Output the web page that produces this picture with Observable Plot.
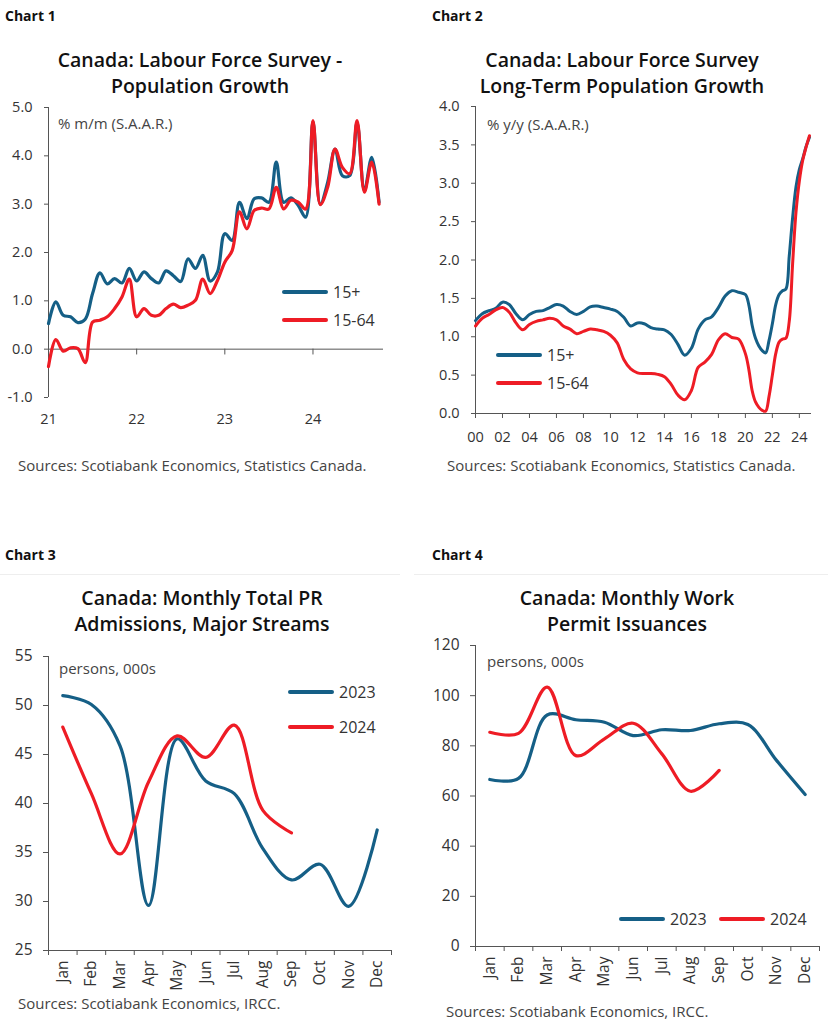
<!DOCTYPE html>
<html><head><meta charset="utf-8">
<script src="https://cdn.jsdelivr.net/npm/d3@7"></script>
<script src="https://cdn.jsdelivr.net/npm/@observablehq/plot@0.6"></script>
<style>
body{margin:0;background:#fff;}
#page{position:relative;width:828px;height:1023px;overflow:hidden;font-family:"Open Sans",Lato,sans-serif;color:#333;background:#fff;}
.abs{position:absolute;}
.chartno{font-family:"Open Sans",sans-serif;font-weight:700;font-size:14px;line-height:20px;color:#111;}
.title{font-family:"Open Sans",sans-serif;font-weight:600;font-size:19.5px;line-height:26px;text-align:center;color:#111;width:400px;}
.unit{font-size:15px;line-height:18px;color:#444;white-space:nowrap;}
.src{font-size:15px;line-height:18px;color:#444;white-space:nowrap;}
.leg{font-size:16px;line-height:20px;height:20px;color:#333;display:flex;align-items:center;white-space:nowrap;}
.leg .sw{display:inline-block;width:46px;height:4px;border-radius:2px;margin-right:5px;}
.sep{height:1px;background:#eee;}
</style></head><body><div id="page"></div>
<script>
// ---------- DATA ----------
const colBlue = "#155f86";
const colRed = "#ee1c25";
const axisColor = "#555";

// Chart 1: monthly from Jan 2021
const c1StartYear = 2021;
const c1Series = ["15+", "15-64"];
const c1Plus = [0.53,0.98,0.70,0.67,0.55,0.62,1.15,1.58,1.35,1.46,1.37,1.67,1.41,1.60,1.46,1.37,1.62,1.52,1.40,1.87,1.67,1.94,1.41,1.60,2.39,2.25,3.04,2.70,3.11,3.13,3.04,3.87,3.04,3.13,2.97,2.73,4.71,3.00,3.45,4.14,3.59,3.59,4.69,3.28,3.97,3.04];
const c1Core = [-0.36,0.20,-0.04,0.03,0.01,-0.28,0.56,0.60,0.67,0.84,1.08,1.45,0.67,0.84,0.70,0.70,0.84,0.93,0.86,0.91,1.01,1.45,1.15,1.42,1.80,2.04,2.84,2.49,2.87,2.92,2.90,3.35,2.90,3.08,3.04,2.90,4.73,2.99,3.35,4.14,3.76,3.63,4.73,3.25,3.87,3.00];
const c1XDomain = [2021, 2024.8];
const c1YTicks = [-1,0,1,2,3,4,5];
const c1XTicks = [2021,2022,2023,2024];

// Chart 2: long-term y/y
const c2Years = [2000,2000.5,2001,2001.5,2002,2002.5,2003,2003.5,2004,2004.5,2005,2005.5,2006,2006.5,2007,2007.5,2008,2008.5,2009,2009.5,2010,2010.5,2011,2011.5,2012,2012.5,2013,2013.5,2014,2014.5,2015,2015.5,2016,2016.5,2017,2017.5,2018,2018.5,2019,2019.5,2020,2020.25,2020.5,2020.75,2021,2021.25,2021.5,2021.75,2022,2022.25,2022.5,2022.75,2023,2023.25,2023.5,2023.75,2024,2024.25,2024.5,2024.75];
const c2Plus = [1.21,1.30,1.34,1.37,1.45,1.42,1.30,1.22,1.29,1.33,1.34,1.38,1.42,1.40,1.33,1.29,1.33,1.39,1.40,1.38,1.36,1.33,1.25,1.14,1.18,1.17,1.12,1.10,1.09,1.03,0.90,0.76,0.85,1.10,1.22,1.26,1.38,1.53,1.60,1.58,1.55,1.42,1.15,0.98,0.88,0.82,0.79,0.95,1.17,1.42,1.55,1.60,1.62,2.05,2.55,2.95,3.18,3.32,3.48,3.60];
const c2Core = [1.14,1.24,1.29,1.35,1.38,1.32,1.18,1.09,1.16,1.20,1.22,1.24,1.22,1.14,1.10,1.04,1.07,1.10,1.09,1.07,1.02,0.92,0.70,0.58,0.53,0.52,0.52,0.51,0.48,0.38,0.24,0.18,0.30,0.60,0.67,0.77,0.96,1.04,0.99,0.97,0.78,0.58,0.30,0.15,0.08,0.04,0.03,0.22,0.50,0.78,0.93,0.97,0.98,1.20,1.95,2.62,3.03,3.30,3.47,3.62];
const c2XDomain = [2000, 2024.9];
const c2XTicks = [2000,2002,2004,2006,2008,2010,2012,2014,2016,2018,2020,2022,2024];
const c2YTicks = [0,0.5,1,1.5,2,2.5,3,3.5,4];

// Charts 3 & 4: months
const months = ["Jan","Feb","Mar","Apr","May","Jun","Jul","Aug","Sep","Oct","Nov","Dec"];
const yearSeries = ["2023","2024"];
const c3Y2023 = [51.0,50.1,45.9,29.6,46.6,42.3,41.0,35.4,32.2,33.8,29.5,37.3];
const c3Y2024 = [47.8,41.0,34.85,42.2,46.9,44.7,48.0,39.3,37.0];
const c3YTicks = [25,30,35,40,45,50,55];
const c4Y2023 = [66.6,67.0,92.3,90.4,89.4,84.1,86.4,86.1,88.8,88.5,74.2,60.6];
const c4Y2024 = [85.4,85.0,103.4,76.1,82.8,89.0,76.8,61.9,70.2];
const c4YTicks = [0,20,40,60,80,100,120];

// ---------- HELPERS ----------
const page = document.getElementById("page");
function addDiv(cls, left, top, html, extra) {
  const d = document.createElement("div");
  d.className = "abs " + cls;
  d.style.left = left + "px";
  d.style.top = top + "px";
  if (extra) Object.assign(d.style, extra);
  d.innerHTML = html;
  page.appendChild(d);
  return d;
}
function addPlot(svg, left, top) {
  const w = document.createElement("div");
  w.className = "abs";
  w.style.left = left + "px";
  w.style.top = top + "px";
  w.appendChild(svg);
  page.appendChild(w);
}
function legendItem(left, cy, color, label) {
  addDiv("leg", left, cy - 10, `<span class="sw" style="background:${color}"></span>${label}`);
}
const baseStyle = (fs) => ({fontFamily: "'Open Sans', Lato, sans-serif", fontSize: fs, color: "#333", background: "transparent", overflow: "visible"});

// ---------- CHART 1 ----------
const c1Rows = [
  ...c1Plus.map((v, i) => ({x: c1StartYear + i / 12, y: v, s: c1Series[0]})),
  ...c1Core.map((v, i) => ({x: c1StartYear + i / 12, y: v, s: c1Series[1]}))
];
addPlot(Plot.plot({
  width: 414, height: 345, marginLeft: 48, marginRight: 31, marginTop: 12, marginBottom: 43,
  style: baseStyle("14.5px"),
  x: {domain: c1XDomain},
  y: {domain: [c1YTicks[0], c1YTicks[c1YTicks.length - 1]]},
  color: {domain: c1Series, range: [colBlue, colRed]},
  marks: [
    Plot.ruleX([c1XDomain[0]], {stroke: axisColor}),
    Plot.ruleY([0], {stroke: axisColor}),
    Plot.ruleX(c1XTicks, {y1: 0, y2: -0.12, stroke: axisColor}),
    Plot.axisY({ticks: c1YTicks, tickSize: 4, tickPadding: 12, tickFormat: d => d.toFixed(1), label: null, stroke: axisColor}),
    Plot.axisX({ticks: c1XTicks, tickSize: 0, tickPadding: 16, tickFormat: d => String(d).slice(2), label: null}),
    Plot.line(c1Rows, {x: "x", y: "y", z: "s", stroke: "s", strokeWidth: 3.2, curve: "catmull-rom"})
  ]
}), 0, 95);

// ---------- CHART 2 ----------
const c2Rows = [
  ...c2Years.map((yr, i) => ({x: yr, y: c2Plus[i], s: c1Series[0]})),
  ...c2Years.map((yr, i) => ({x: yr, y: c2Core[i], s: c1Series[1]}))
];
addPlot(Plot.plot({
  width: 414, height: 345, marginLeft: 61, marginRight: 17, marginTop: 11, marginBottom: 27,
  style: baseStyle("14.5px"),
  x: {domain: c2XDomain},
  y: {domain: [0, 4]},
  color: {domain: c1Series, range: [colBlue, colRed]},
  marks: [
    Plot.ruleX([c2XDomain[0]], {stroke: axisColor}),
    Plot.ruleY([0], {stroke: axisColor}),
    Plot.axisY({ticks: c2YTicks, tickSize: 4, tickPadding: 12, tickFormat: d => d.toFixed(1), label: null, stroke: axisColor}),
    Plot.axisX({ticks: c2XTicks, tickSize: 5, tickPadding: 13, tickFormat: d => String(d).slice(2), label: null, stroke: axisColor}),
    Plot.line(c2Rows, {x: "x", y: "y", z: "s", stroke: "s", strokeWidth: 3, curve: "catmull-rom"})
  ]
}), 414, 95);

// ---------- CHART 3 & 4 ----------
function monthRows(a, b) {
  return [
    ...a.map((v, i) => ({x: i, y: v, s: yearSeries[0]})),
    ...b.map((v, i) => ({x: i, y: v, s: yearSeries[1]}))
  ];
}
const monthIdx = months.map((m, i) => i);
const monthBounds = [...months.map((m, i) => i - 0.5), months.length - 0.5];
function monthPlot(rows, yTicks, margins) {
  return Plot.plot({
    width: 414, height: 383, ...margins,
    style: baseStyle("15.5px"),
    x: {domain: [monthBounds[0], monthBounds[monthBounds.length - 1]]},
    y: {domain: [yTicks[0], yTicks[yTicks.length - 1]]},
    color: {domain: yearSeries, range: [colBlue, colRed]},
    marks: [
      Plot.ruleX([monthBounds[0]], {stroke: axisColor}),
      Plot.ruleY([yTicks[0]], {stroke: axisColor}),
      Plot.axisY({ticks: yTicks, tickSize: 5, tickPadding: 11, label: null, stroke: axisColor}),
      Plot.axisX({ticks: monthBounds, tickSize: 5, tickFormat: () => "", label: null, stroke: axisColor}),
      Plot.axisX({ticks: monthIdx, tickSize: 0, tickPadding: 10, tickRotate: -90, textAnchor: "end", tickFormat: i => months[i], label: null}),
      Plot.line(rows, {x: "x", y: "y", z: "s", stroke: "s", strokeWidth: 3.2, curve: "catmull-rom"})
    ]
  });
}
addPlot(monthPlot(monthRows(c3Y2023, c3Y2024), c3YTicks, {marginLeft: 48, marginRight: 23, marginTop: 16, marginBottom: 73}), 0, 640);
addPlot(monthPlot(monthRows(c4Y2023, c4Y2024), c4YTicks, {marginLeft: 61, marginRight: 9, marginTop: 5, marginBottom: 77}), 414, 640);

// ---------- TEXT ----------
addDiv("chartno", 5, 6, "Chart 1");
addDiv("chartno", 432, 6, "Chart 2");
addDiv("chartno", 5, 545, "Chart 3");
addDiv("chartno", 432, 545, "Chart 4");
addDiv("sep", 0, 574, "", {width: "400px"});
addDiv("sep", 414, 574, "", {width: "414px"});

addDiv("title", 200 - 200, 47, "Canada: Labour Force Survey -<br>Population Growth");
addDiv("title", 622 - 200, 47, "Canada: Labour Force Survey<br>Long-Term Population Growth");
addDiv("title", 202 - 200, 585, "Canada: Monthly Total PR<br>Admissions, Major Streams");
addDiv("title", 627 - 200, 585, "Canada: Monthly Work<br>Permit Issuances");

addDiv("unit", 58, 114, "% m/m (S.A.A.R.)");
addDiv("unit", 487, 115, "% y/y (S.A.A.R.)");
addDiv("unit", 59, 659, "persons, 000s");
addDiv("unit", 487, 652, "persons, 000s");

legendItem(282, 292, colBlue, c1Series[0]);
legendItem(282, 320, colRed, c1Series[1]);
legendItem(496, 355, colBlue, c1Series[0]);
legendItem(496, 383, colRed, c1Series[1]);
legendItem(288, 692, colBlue, yearSeries[0]);
legendItem(288, 727, colRed, yearSeries[1]);
legendItem(619, 919, colBlue, yearSeries[0]);
legendItem(719, 919, colRed, yearSeries[1]);

addDiv("src", 18, 456, "Sources: Scotiabank Economics, Statistics Canada.");
addDiv("src", 447, 456, "Sources: Scotiabank Economics, Statistics Canada.");
addDiv("src", 18, 994, "Sources: Scotiabank Economics, IRCC.");
addDiv("src", 446, 1002, "Sources: Scotiabank Economics, IRCC.");
</script></body></html>
